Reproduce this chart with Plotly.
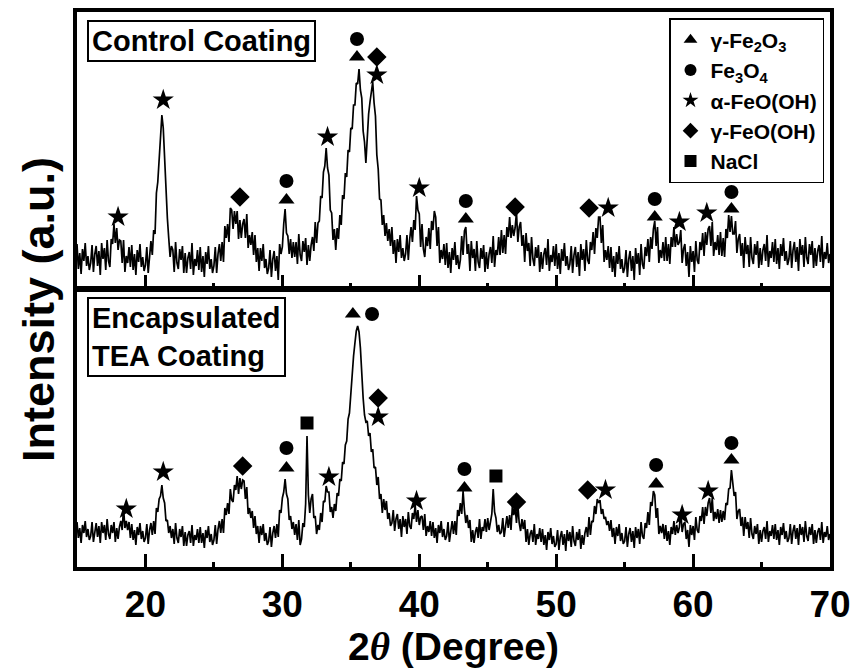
import numpy as np
import plotly.graph_objects as go

# 2-theta sampling grid (degrees), 0.1 degree steps from 15 to 70
two_theta = np.round(np.arange(150, 701) / 10, 1)

# Control Coating intensity (a.u.), one row per degree
top_intensity = [
    44, 19, 35, 14, 39, 27, 45, 22, 32, 18,
    25, 43, 16, 34, 42, 22, 37, 13, 45, 29,
    40, 18, 48, 27, 21, 49, 44, 64, 45, 60,
    38, 48, 47, 25, 48, 16, 32, 25, 41, 21,
    43, 18, 34, 13, 38, 26, 44, 21, 31, 17,
    23, 41, 15, 35, 47, 33, 58, 54, 95, 106,
    132, 158, 173, 160, 127, 96, 70, 50, 31, 42,
    38, 16, 46, 25, 19, 39, 28, 42, 15, 35,
    15, 30, 36, 19, 45, 13, 29, 22, 38, 18,
    41, 16, 32, 11, 36, 24, 42, 19, 29, 15,
    22, 41, 15, 34, 44, 27, 46, 26, 62, 50,
    64, 46, 80, 78, 59, 77, 64, 77, 49, 68,
    50, 64, 69, 50, 74, 40, 53, 43, 56, 33,
    53, 26, 40, 17, 40, 27, 44, 20, 29, 14,
    20, 38, 11, 29, 37, 17, 32, 8, 44, 34,
    41, 64, 79, 55, 52, 34, 49, 30, 46, 31,
    46, 24, 54, 33, 27, 47, 36, 50, 23, 43,
    27, 43, 51, 37, 66, 45, 65, 67, 92, 90,
    116, 122, 140, 120, 113, 78, 75, 48, 59, 38,
    60, 49, 73, 63, 93, 89, 115, 111, 138, 136,
    160, 159, 183, 183, 205, 204, 219, 198, 190, 157,
    146, 125, 157, 174, 186, 198, 206, 185, 172, 133,
    119, 89, 88, 63, 73, 52, 65, 47, 59, 42,
    61, 34, 48, 25, 49, 36, 53, 30, 40, 27,
    34, 53, 28, 49, 61, 46, 68, 58, 92, 78,
    74, 41, 64, 39, 31, 51, 42, 60, 39, 67,
    58, 77, 71, 42, 61, 25, 38, 29, 44, 23,
    45, 20, 36, 15, 40, 28, 46, 23, 33, 19,
    28, 52, 33, 57, 61, 34, 44, 17, 47, 30,
    39, 17, 47, 26, 20, 40, 29, 43, 16, 36,
    19, 34, 41, 25, 52, 21, 38, 33, 51, 33,
    58, 35, 53, 34, 61, 51, 71, 50, 63, 52,
    60, 76, 46, 61, 66, 42, 53, 26, 55, 37,
    45, 22, 51, 29, 22, 41, 30, 43, 16, 36,
    19, 34, 40, 23, 49, 17, 33, 26, 42, 22,
    44, 19, 35, 14, 39, 27, 45, 22, 32, 18,
    24, 42, 15, 33, 41, 21, 36, 12, 44, 28,
    39, 17, 48, 28, 24, 46, 38, 56, 34, 60,
    50, 71, 71, 45, 63, 26, 38, 28, 42, 20,
    41, 16, 32, 11, 36, 24, 42, 19, 29, 15,
    20, 38, 11, 29, 37, 17, 32, 8, 40, 24,
    35, 13, 44, 24, 19, 41, 32, 49, 26, 51,
    39, 59, 67, 42, 61, 25, 38, 30, 46, 27,
    51, 27, 44, 24, 51, 41, 61, 41, 54, 43,
    46, 58, 25, 39, 44, 22, 36, 11, 42, 26,
    37, 16, 47, 28, 24, 46, 38, 55, 32, 56,
    43, 59, 62, 42, 66, 32, 46, 38, 53, 33,
    56, 32, 50, 31, 59, 50, 73, 56, 72, 54,
    54, 67, 35, 49, 54, 32, 45, 20, 51, 34,
    43, 21, 51, 30, 24, 44, 33, 47, 20, 40,
    23, 38, 44, 27, 53, 21, 37, 30, 46, 26,
    49, 24, 40, 19, 44, 32, 50, 27, 37, 23,
    29, 47, 20, 38, 46, 26, 41, 17, 49, 33,
    43, 21, 51, 30, 24, 44, 33, 47, 20, 40,
    22, 37, 43, 26, 52, 20, 36, 29, 45, 25,
    34,
]

# Encapsulated TEA Coating intensity (a.u.), one row per degree
bottom_intensity = [
    45, 29, 39, 24, 42, 34, 46, 30, 38, 27,
    31, 45, 25, 38, 44, 30, 41, 24, 45, 34,
    42, 27, 48, 33, 28, 42, 34, 45, 25, 39,
    28, 40, 46, 37, 59, 39, 46, 37, 45, 29,
    43, 27, 37, 22, 40, 32, 44, 28, 36, 25,
    29, 43, 23, 37, 44, 32, 46, 33, 59, 55,
    68, 71, 82, 69, 64, 46, 47, 34, 41, 29,
    38, 23, 44, 29, 24, 38, 30, 41, 21, 35,
    21, 32, 36, 24, 42, 21, 32, 27, 38, 24,
    40, 24, 34, 19, 37, 29, 41, 25, 33, 22,
    27, 42, 23, 38, 46, 34, 48, 34, 59, 52,
    64, 53, 78, 67, 65, 82, 77, 91, 73, 89,
    78, 87, 86, 68, 80, 53, 59, 49, 56, 39,
    51, 33, 41, 24, 41, 32, 43, 26, 34, 22,
    26, 40, 20, 34, 41, 29, 43, 30, 57, 54,
    69, 75, 88, 73, 68, 47, 51, 38, 45, 32,
    43, 27, 47, 22, 28, 44, 40, 63, 131, 72,
    54, 68, 73, 49, 51, 33, 42, 37, 54, 45,
    66, 65, 81, 75, 75, 55, 60, 49, 63, 56,
    74, 71, 88, 86, 105, 103, 122, 126, 148, 154,
    176, 192, 211, 224, 236, 241, 235, 219, 190, 169,
    152, 145, 146, 131, 134, 115, 118, 99, 100, 82,
    90, 68, 73, 54, 68, 57, 66, 48, 54, 41,
    44, 57, 36, 48, 53, 38, 48, 30, 51, 40,
    48, 33, 55, 41, 38, 54, 48, 62, 45, 57,
    42, 50, 51, 37, 53, 31, 41, 35, 46, 31,
    45, 29, 39, 24, 42, 34, 46, 30, 38, 27,
    31, 45, 25, 39, 46, 33, 46, 32, 57, 51,
    64, 53, 76, 57, 44, 52, 39, 47, 25, 37,
    24, 35, 40, 29, 48, 28, 40, 36, 48, 35,
    49, 37, 47, 53, 78, 55, 49, 35, 42, 33,
    35, 49, 30, 44, 51, 39, 52, 37, 61, 52,
    61, 44, 62, 44, 36, 48, 38, 47, 25, 38,
    22, 33, 37, 25, 43, 22, 33, 28, 39, 25,
    38, 22, 32, 17, 35, 27, 39, 23, 31, 20,
    23, 37, 17, 30, 36, 22, 33, 16, 37, 26,
    35, 20, 41, 26, 21, 35, 27, 38, 18, 32,
    22, 34, 40, 30, 50, 32, 46, 45, 61, 53,
    68, 64, 67, 53, 58, 48, 50, 42, 46, 36,
    47, 30, 39, 23, 40, 31, 43, 26, 34, 23,
    26, 40, 20, 33, 39, 25, 36, 19, 40, 29,
    38, 23, 45, 31, 28, 44, 39, 55, 42, 65,
    61, 76, 72, 49, 59, 33, 41, 34, 43, 28,
    42, 26, 36, 22, 40, 33, 46, 32, 42, 34,
    40, 56, 35, 43, 45, 28, 37, 20, 42, 32,
    41, 27, 50, 37, 34, 51, 46, 60, 43, 60,
    51, 64, 69, 54, 69, 46, 55, 48, 58, 44,
    57, 45, 56, 47, 64, 62, 78, 79, 97, 84,
    71, 75, 48, 56, 58, 41, 50, 31, 50, 38,
    45, 29, 49, 33, 28, 41, 33, 43, 23, 37,
    25, 36, 40, 28, 46, 25, 36, 31, 42, 28,
    43, 27, 37, 22, 40, 32, 44, 28, 36, 25,
    29, 43, 23, 36, 42, 28, 39, 22, 43, 32,
    40, 25, 46, 31, 26, 40, 32, 43, 23, 37,
    24, 35, 39, 27, 45, 24, 35, 30, 41, 27,
    33,
]

# Phase names (legend)
phase_names = ["γ-Fe<sub>2</sub>O<sub>3</sub>", "Fe<sub>3</sub>O<sub>4</sub>",
               "α-FeO(OH)", "γ-FeO(OH)", "NaCl"]

# Phase-identification markers, top panel (Control Coating)
top_tri_x = [30.3, 35.45, 43.4, 57.2, 62.8]
top_tri_y = [88, 231, 69, 71, 79]
top_cir_x = [30.3, 35.45, 43.4, 57.2, 62.8]
top_cir_y = [107, 249, 87, 89, 96]
top_star_x = [18.0, 21.3, 33.3, 36.9, 40.0, 53.8, 59.0, 61.0]
top_star_y = [71, 188, 151, 213, 100, 80, 66, 75]
top_dia_x = [26.9, 36.9, 47.0, 52.4]
top_dia_y = [91, 231, 81, 80]

# Phase-identification markers, bottom panel (Encapsulated TEA Coating)
bot_tri_x = [30.3, 35.15, 43.3, 57.3, 62.8]
bot_tri_y = [99, 253, 79, 83, 107]
bot_cir_x = [30.3, 36.55, 43.3, 57.3, 62.8]
bot_cir_y = [119, 253, 98, 102, 124]
bot_star_x = [18.6, 21.3, 33.4, 37.0, 39.8, 53.6, 59.2, 61.1]
bot_star_y = [58, 95, 90, 150, 66, 77, 52, 76]
bot_dia_x = [27.1, 37.0, 47.1, 52.3]
bot_dia_y = [101, 169, 65, 77]
bot_sq_x = [31.8, 45.6]
bot_sq_y = [144, 91]

x_ticks = [20, 30, 40, 50, 60, 70]
x_minor_ticks = [15, 25, 35, 45, 55, 65]

FONT = "Liberation Sans, Arial, sans-serif"
fig = go.Figure()

fig.add_trace(go.Scatter(x=two_theta, y=top_intensity, mode="lines",
                         line=dict(color="black", width=1.7),
                         xaxis="x2", yaxis="y2", showlegend=False, hoverinfo="skip"))
fig.add_trace(go.Scatter(x=two_theta, y=bottom_intensity, mode="lines",
                         line=dict(color="black", width=1.7),
                         xaxis="x", yaxis="y", showlegend=False, hoverinfo="skip"))

sym_specs = [
    ("triangle-up", 14, top_tri_x, top_tri_y, bot_tri_x, bot_tri_y),
    ("circle", 14, top_cir_x, top_cir_y, bot_cir_x, bot_cir_y),
    ("star", 16, top_star_x, top_star_y, bot_star_x, bot_star_y),
    ("diamond", 15, top_dia_x, top_dia_y, bot_dia_x, bot_dia_y),
    ("square", 13, [], [], bot_sq_x, bot_sq_y),
]
for i, (sym, size, tx, ty, bx, by) in enumerate(sym_specs):
    name = phase_names[i]
    has_top = len(tx) > 0
    if has_top:
        fig.add_trace(go.Scatter(x=tx, y=ty, mode="markers", name=name,
                                 marker=dict(symbol=sym, size=size, color="black"),
                                 xaxis="x2", yaxis="y2", legendgroup=name,
                                 legendrank=i + 1, showlegend=True))
    fig.add_trace(go.Scatter(x=bx, y=by, mode="markers", name=name,
                             marker=dict(symbol=sym, size=size, color="black"),
                             xaxis="x", yaxis="y", legendgroup=name,
                             legendrank=i + 1, showlegend=not has_top))

axis_common = dict(range=[15, 70], showline=True, linewidth=3.5, linecolor="black",
                   mirror=True, ticks="inside", tickmode="array", tickvals=x_ticks,
                   ticklen=13, tickwidth=3, tickcolor="black",
                   minor=dict(ticks="inside", tickmode="array",
                              tickvals=x_minor_ticks,
                              ticklen=5, tickwidth=3, tickcolor="black"),
                   showgrid=False, zeroline=False, automargin=False)

fig.update_layout(
    width=852, height=671, autosize=False,
    margin=dict(l=77, r=22, t=12, b=104, autoexpand=False),
    paper_bgcolor="white", plot_bgcolor="white",
    font=dict(family=FONT, color="black"),
    xaxis=dict(**axis_common, anchor="y", domain=[0, 1],
               ticktext=[str(v) for v in x_ticks],
               tickfont=dict(size=37, family=FONT, weight="bold", color="black"),
               ticklabelstandoff=2),
    xaxis2=dict(**axis_common, anchor="y2", domain=[0, 1], matches="x",
                showticklabels=False),
    yaxis=dict(domain=[0, 0.4991], range=[0, 277], showline=True, linewidth=3.5,
               linecolor="black", mirror=True, ticks="", showticklabels=False,
               showgrid=False, zeroline=False, automargin=False),
    yaxis2=dict(domain=[0.5027, 1], range=[0, 276], showline=True, linewidth=3.5,
                linecolor="black", mirror=True, ticks="", showticklabels=False,
                showgrid=False, zeroline=False, automargin=False),
    legend=dict(x=(669 - 77) / 753, y=0.989, xanchor="left", yanchor="top",
                bordercolor="black", borderwidth=1.5, bgcolor="white",
                font=dict(size=21, family=FONT, weight="bold", color="black"),
                itemsizing="constant", tracegroupgap=0, itemwidth=30),
    showlegend=True,
)

fig.add_annotation(text="Intensity (a.u.)", xref="paper", yref="paper",
                   x=(38 - 77) / 753, y=0.463, textangle=-90, showarrow=False,
                   xanchor="center", yanchor="middle",
                   font=dict(size=45, family=FONT, weight="bold", color="black"))
fig.add_annotation(text="2<span style='font-family:Liberation Serif'><i>θ</i></span> (Degree)",
                   xref="paper", yref="paper", x=0.5, y=-0.144, showarrow=False,
                   xanchor="center", yanchor="middle",
                   font=dict(size=39, family=FONT, weight="bold", color="black"))
fig.add_annotation(text="Control Coating", xref="paper", yref="paper",
                   x=(87 - 77) / 753, y=(567 - 20) / 555, xanchor="left", yanchor="top",
                   showarrow=False, bordercolor="black", borderwidth=2, borderpad=3,
                   bgcolor="white",
                   font=dict(size=29, family=FONT, weight="bold", color="black"))
fig.add_annotation(text="Encapsulated<br>TEA Coating", xref="paper", yref="paper",
                   x=(87 - 77) / 753, y=(567 - 297) / 555, xanchor="left", yanchor="top",
                   align="left", showarrow=False, bordercolor="black", borderwidth=2,
                   borderpad=3, bgcolor="white",
                   font=dict(size=29, family=FONT, weight="bold", color="black"))

fig.write_html("out.html")
